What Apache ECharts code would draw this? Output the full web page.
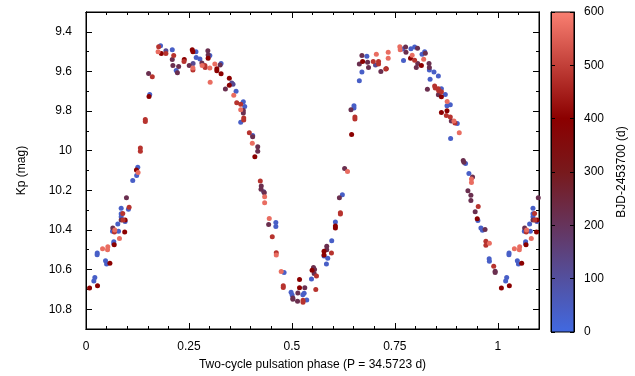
<!DOCTYPE html>
<html><head><meta charset="utf-8">
<script src="https://cdn.jsdelivr.net/npm/echarts@6/dist/echarts.min.js"></script>
<style>html,body{margin:0;padding:0;background:#fff}#c{width:635px;height:376px}</style>
</head><body><div id="c"></div>
<script>
// Color classes (BJD-2453700, days)
var B = 40, BP = 120, P = 220, D = 400, R = 480, S = 570;

var phases = [0.0087,0.0215,0.019,0.028,0.0273,0.027,0.0402,0.053,0.0523,0.0474,0.050,0.058,0.0675,0.0675,0.0685,0.0651,0.0644,0.070,0.069,0.0772,0.079,0.0813,0.0854,0.0854,0.0893,0.0854,0.0854,0.090,0.095,0.095,0.094,0.0982,0.1047,0.103,0.1135,0.123,0.1224,0.1265,0.1257,0.132,0.132,0.144,0.144,0.1547,0.153,0.152,0.161,
0.1764,0.181,0.175,0.183,0.194,0.194,0.2095,0.213,0.2095,0.211,0.225,0.219,0.222,0.2386,0.238,0.2507,0.258,0.2596,0.267,0.260,0.2596,0.2596,0.2676,0.2766,0.2814,0.282,0.2887,0.2894,0.2959,0.2966,0.2966,0.3007,0.3015,0.3007,0.3128,0.3177,0.3177,0.3257,0.328,0.328,0.3385,0.348,0.348,0.354,0.357,0.3644,0.3588,0.366,
0.3757,0.382,0.3854,0.3757,0.382,0.382,0.383,0.383,0.3757,0.3966,0.4047,0.4047,0.4038,0.417,0.417,0.410,
0.4232,0.4256,0.425,0.4314,0.433,0.4338,0.4338,0.445,0.4435,0.461,0.461,0.4523,0.462,0.462,0.474,0.481,0.479,0.479,0.498,0.5006,0.5023,0.5023,0.5144,0.5137,0.5185,0.5185,0.5313,0.5297,0.5265,0.527,0.527,0.536,0.5475,0.549,0.5524,0.555,0.554,0.5597,0.558,0.578,0.578,0.5846,0.5846,0.578,0.587,0.5838,0.596,0.5967,0.6056,0.6056,0.6056,0.6177,0.6177,0.6153,0.6225,0.628,0.635,
0.645,0.653,0.653,0.6507,0.6507,0.6434,0.6637,0.670,0.6637,0.670,0.6717,0.682,0.6838,0.686,0.6975,0.703,0.705,0.7104,0.7104,0.716,0.728,0.7338,0.7338,0.729,
0.762,0.763,0.769,0.776,0.777,0.771,0.789,0.798,0.805,0.792,0.788,0.798,0.8055,0.802,0.8144,0.816,0.8224,0.824,0.820,0.833,0.8338,0.8338,0.845,0.8556,0.8355,0.8466,0.848,0.829,0.8556,0.863,0.8563,0.863,0.8556,0.863,0.8725,0.877,0.8766,0.8846,0.8766,0.875,0.863,0.8846,0.887,0.8935,0.896,0.9015,0.9064,0.8854,0.916,0.9177,0.9216,
0.9298,0.9386,0.936,0.936,0.9274,0.9346,0.9346,0.9524,0.945,0.950,0.9516,0.959,0.9627,0.969,0.971,0.971,0.9795,0.979,0.9795,0.990,0.9935,0.9935];

var mags = [10.693,10.640,10.658,10.682,10.517,10.525,10.495,10.485,10.500,10.555,10.572,10.568,10.460,10.470,10.475,10.390,10.407,10.400,10.410,10.370,10.407,10.443,10.290,10.318,10.317,10.333,10.350,10.350,10.350,10.357,10.410,10.238,10.285,10.295,10.150,10.125,10.098,10.110,10.083,9.987,10.003,9.843,9.853,9.717,9.727,9.610,9.627,
9.475,9.470,9.500,9.510,9.495,9.510,9.490,9.520,9.540,9.570,9.575,9.595,9.607,9.540,9.550,9.570,9.490,9.500,9.500,9.560,9.583,9.593,9.530,9.537,9.558,9.570,9.570,9.580,9.495,9.517,9.533,9.520,9.655,9.583,9.562,9.587,9.597,9.567,9.560,9.612,9.689,9.635,9.670,9.658,9.665,9.700,9.720,9.758,
9.765,9.753,9.777,9.793,9.797,9.810,9.835,9.845,9.857,9.910,9.923,9.930,9.963,9.980,10.003,10.030,
10.153,10.178,10.195,10.207,10.212,10.232,10.263,10.342,10.373,10.362,10.383,10.435,10.515,10.527,10.610,10.615,10.682,10.690,10.715,10.728,10.743,10.750,10.718,10.760,10.650,10.692,10.692,10.720,10.727,10.755,10.765,10.753,10.648,10.603,10.590,10.600,10.620,10.632,10.700,10.507,10.527,10.482,10.500,10.532,10.543,10.572,10.517,10.455,10.360,10.380,10.390,10.313,10.320,10.238,10.222,10.090,10.105,
9.918,9.830,9.840,9.773,9.785,9.793,9.647,9.603,9.563,9.520,9.550,9.523,9.553,9.580,9.550,9.568,9.513,9.550,9.563,9.600,9.588,9.503,9.533,9.587,
9.475,9.490,9.487,9.477,9.503,9.545,9.485,9.477,9.483,9.518,9.533,9.543,9.560,9.580,9.570,9.513,9.500,9.508,9.538,9.560,9.580,9.593,9.603,9.623,9.640,9.673,9.683,9.690,9.687,9.688,9.698,9.703,9.718,9.728,9.717,9.752,9.773,9.768,9.798,9.822,9.807,9.830,9.850,9.850,9.860,9.863,9.910,9.938,10.050,10.058,10.065,
10.115,10.133,10.143,10.160,10.202,10.225,10.252,10.282,10.308,10.343,10.352,10.390,10.402,10.398,10.457,10.477,10.467,10.545,10.558,10.583,10.608,10.615];

var times = [D,B,B,D,B,B,S,S,S,B,B,D,B,B,D,P,B,S,R,B,B,S,B,B,R,B,P,R,D,B,D,P,R,B,B,B,D,S,B,R,R,R,R,B,D,P,R,
R,B,S,D,BP,R,B,R,P,P,P,B,P,D,R,P,D,D,B,BP,S,R,B,B,P,S,R,R,P,P,D,B,S,S,S,D,D,P,B,D,P,D,D,BP,BP,B,S,R,
R,B,B,S,P,P,R,R,B,R,B,P,S,P,P,D,
R,P,P,BP,P,S,S,S,P,B,B,R,R,S,S,B,R,R,B,B,P,P,P,P,D,D,P,B,B,R,R,B,B,D,P,P,P,R,R,D,D,P,P,B,B,B,R,B,B,D,D,R,R,P,B,P,S,
D,R,R,B,B,P,B,B,P,P,D,B,P,P,R,BP,S,R,R,P,R,S,S,D,
S,S,B,P,P,B,B,B,P,S,D,R,P,P,D,B,B,P,S,P,P,B,B,B,B,R,R,P,R,B,R,R,P,D,B,S,B,B,D,R,D,R,P,S,R,B,S,B,P,P,B,
B,P,S,S,P,P,P,R,P,D,B,B,B,P,R,R,S,B,B,R,P,P];

var xMajor = [0, 0.25, 0.5, 0.75, 1];
var xMinor = [0.05,0.1,0.15,0.2,0.3,0.35,0.4,0.45,0.55,0.6,0.65,0.7,0.8,0.85,0.9,0.95,1.05];
var yMajor = [9.4, 9.6, 9.8, 10, 10.2, 10.4, 10.6, 10.8];
var yMinor = [9.3, 9.5, 9.7, 9.9, 10.1, 10.3, 10.5, 10.7, 10.9];
var cbTicks = [0, 100, 200, 300, 400, 500, 600];
var cbColors = ['#4169e1','#53509f','#66345c','#78191c','#8b0000','#c24039','#fa8072'];

// build points; phases below 0.1 are shown again one cycle later (phase + 1)
var pts = [];
for (var i = 0; i < phases.length; i++) {
  pts.push([phases[i], mags[i], times[i]]);
  if (phases[i] <= 0.1) pts.push([phases[i] + 1, mags[i], times[i]]);
}
pts.sort(function(a, b){ return a[2] - b[2]; });

var font = 'Liberation Sans, Arial, sans-serif';
var tick = {inside: true, lineStyle: {color: '#000', width: 1}};
function ax(extra) {
  var o = {type: 'value', gridIndex: 0, axisLine: {show: true, onZero: false, lineStyle: {color: '#000'}},
    splitLine: {show: false}, axisLabel: {show: false}};
  for (var k in extra) o[k] = extra[k];
  return o;
}
var xBase = {min: 0, max: 1.1};
var yBase = {min: 9.3, max: 10.9, inverse: true};

var chart = echarts.init(document.getElementById('c'), null, {renderer: 'canvas'});
chart.setOption({
  animation: false,
  backgroundColor: '#fff',
  textStyle: {fontFamily: font},
  grid: [
    {left: 86, top: 12, width: 453, height: 320, show: true, borderColor: '#000', borderWidth: 1, backgroundColor: 'transparent'},
    {left: 551, top: 12, width: 23, height: 320, show: true, borderColor: '#000', borderWidth: 1,
      backgroundColor: {type: 'linear', x: 0, y: 1, x2: 0, y2: 0,
        colorStops: cbColors.map(function(c, i){ return {offset: i / (cbColors.length - 1), color: c}; })}}
  ],
  xAxis: [
    ax(Object.assign({position: 'bottom',
      axisTick: Object.assign({length: 6, customValues: xMajor}, tick),
      axisLabel: {show: true, customValues: xMajor, margin: 12, color: '#000', fontSize: 12, fontFamily: font,
        formatter: function(v){ return String(v); }},
      name: 'Two-cycle pulsation phase (P = 34.5723 d)', nameLocation: 'middle', nameGap: 30,
      nameTextStyle: {color: '#000', fontSize: 12, fontFamily: font}}, xBase)),
    ax(Object.assign({position: 'bottom', axisTick: Object.assign({length: 3, customValues: xMinor}, tick)}, xBase)),
    ax(Object.assign({position: 'top', axisTick: Object.assign({length: 6, customValues: xMajor}, tick)}, xBase)),
    ax(Object.assign({position: 'top', axisTick: Object.assign({length: 3, customValues: xMinor}, tick)}, xBase)),
    {type: 'value', gridIndex: 1, min: 0, max: 1, show: false}
  ],
  yAxis: [
    ax(Object.assign({position: 'left',
      axisTick: Object.assign({length: 6, customValues: yMajor}, tick),
      axisLabel: {show: true, customValues: yMajor, margin: 14, color: '#000', fontSize: 12, fontFamily: font,
        formatter: function(v){ return String(v); }},
      name: 'Kp (mag)', nameLocation: 'middle', nameRotate: 90, nameGap: 58,
      nameTextStyle: {color: '#000', fontSize: 12, fontFamily: font}}, yBase)),
    ax(Object.assign({position: 'left', axisTick: Object.assign({length: 3, customValues: yMinor}, tick)}, yBase)),
    ax(Object.assign({position: 'right', axisTick: Object.assign({length: 6, customValues: yMajor}, tick)}, yBase)),
    ax(Object.assign({position: 'right', axisTick: Object.assign({length: 3, customValues: yMinor}, tick)}, yBase)),
    {type: 'value', gridIndex: 1, min: 0, max: 600, position: 'right',
      axisLine: {show: true, onZero: false, lineStyle: {color: '#000'}}, splitLine: {show: false},
      axisTick: Object.assign({length: 4, customValues: cbTicks}, tick),
      axisLabel: {show: true, customValues: cbTicks, margin: 10, color: '#000', fontSize: 12, fontFamily: font},
      name: 'BJD-2453700 (d)', nameLocation: 'middle', nameRotate: 90, nameGap: 42,
      nameTextStyle: {color: '#000', fontSize: 12, fontFamily: font}},
    {type: 'value', gridIndex: 1, min: 0, max: 600, position: 'left',
      axisLine: {show: true, onZero: false, lineStyle: {color: '#000'}}, splitLine: {show: false},
      axisTick: Object.assign({length: 4, customValues: cbTicks}, tick), axisLabel: {show: false}}
  ],
  visualMap: {type: 'continuous', show: false, min: 0, max: 600, dimension: 2, seriesIndex: 0,
    inRange: {color: cbColors}},
  series: [{
    type: 'scatter', xAxisIndex: 0, yAxisIndex: 0, symbol: 'circle', symbolSize: 5,
    itemStyle: {opacity: 1}, data: pts, clip: true
  }]
});
</script></body></html>
